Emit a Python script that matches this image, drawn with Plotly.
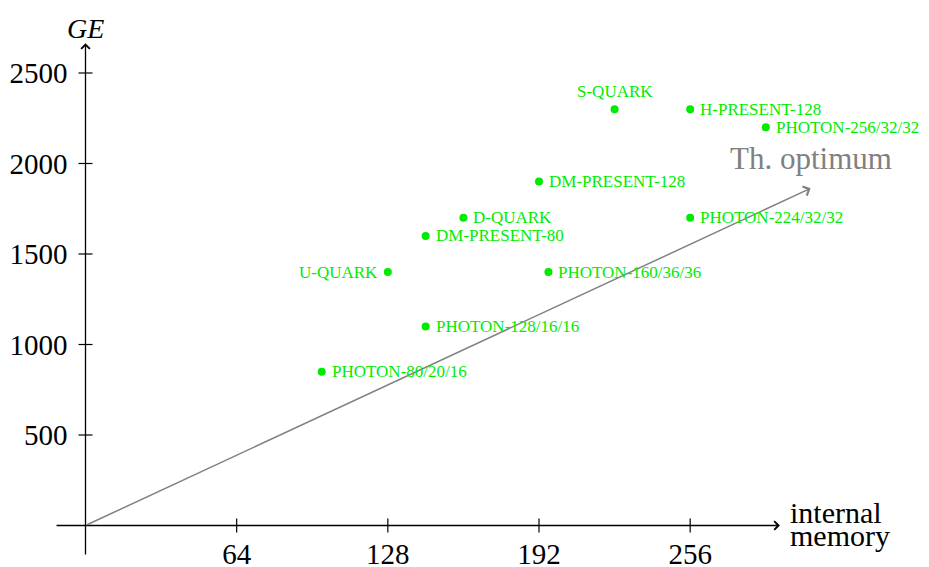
import plotly.graph_objects as go

# ---- data ----
names = ["PHOTON-80/20/16", "PHOTON-128/16/16", "U-QUARK", "DM-PRESENT-80", "D-QUARK",
         "PHOTON-160/36/36", "DM-PRESENT-128", "S-QUARK", "H-PRESENT-128",
         "PHOTON-224/32/32", "PHOTON-256/32/32"]
memory = [100, 144, 128, 144, 160, 196, 192, 224, 256, 256, 288]
ge = [850, 1100, 1400, 1600, 1700, 1400, 1900, 2300, 2300, 1700, 2200]
label_side = ["right", "right", "left", "right", "right", "right", "right", "above",
              "right", "right", "right"]

opt_x = [0, 307]
opt_y = [0, 1863]
opt_label = "Th. optimum"

x_ticks = [64, 128, 192, 256]
y_ticks = [500, 1000, 1500, 2000, 2500]
x_axis_extent = [-12.9, 294]
y_axis_extent = [-168, 2665]

# ---- layout geometry (page has an 8px body margin) ----
W, H = 921, 559
ml, mr, mt, mb = 42, 80, 0, 0
x0px, sx = 77.5, 2.362
y0px, sy = 517.5, 0.181
xrange = [(ml - x0px) / sx, (W - mr - x0px) / sx]
yrange = [(y0px - (H - mb)) / sy, (y0px - mt) / sy]
xpos = ((H - mb) - y0px) / (H - mb - mt)
ypos = (x0px - ml) / (W - ml - mr)

FONT = "Liberation Serif"
GREEN = "rgb(0,235,0)"
GRAY = "rgb(128,128,128)"

fig = go.Figure()
fig.add_trace(go.Scatter(x=memory, y=ge, mode="markers",
                         marker=dict(size=8, color=GREEN), hoverinfo="skip",
                         showlegend=False))

ann = []
# axis arrows
ann.append(dict(x=x_axis_extent[1], y=0, ax=x_axis_extent[0], ay=0, xref="x", yref="y",
                axref="x", ayref="y", text="", showarrow=True, arrowhead=4,
                arrowsize=1.3, arrowwidth=1.3, arrowcolor="black", standoff=0))
ann.append(dict(x=0, y=y_axis_extent[1], ax=0, ay=y_axis_extent[0], xref="x", yref="y",
                axref="x", ayref="y", text="", showarrow=True, arrowhead=4,
                arrowsize=1.3, arrowwidth=1.3, arrowcolor="black", standoff=0))
# optimum line
ann.append(dict(x=opt_x[1], y=opt_y[1], ax=opt_x[0], ay=opt_y[0], xref="x", yref="y",
                axref="x", ayref="y", text="", showarrow=True, arrowhead=4,
                arrowsize=1.3, arrowwidth=1.5, arrowcolor=GRAY, standoff=0))
ann.append(dict(x=opt_x[1], y=opt_y[1], xref="x", yref="y", text=opt_label,
                showarrow=False, yanchor="bottom", xanchor="center", yshift=10,
                font=dict(family=FONT, size=31, color=GRAY)))
# axis labels
ann.append(dict(x=0, y=yrange[1], xref="x", yref="y", text="<i>GE</i>", showarrow=False,
                xanchor="center", yanchor="top", yshift=-3,
                font=dict(family=FONT, size=28, color="black")))
ann.append(dict(x=x_axis_extent[1], y=0, xref="x", yref="y", text="internal",
                showarrow=False, xanchor="left", yanchor="middle", xshift=8, yshift=13,
                font=dict(family=FONT, size=30, color="black")))
ann.append(dict(x=x_axis_extent[1], y=0, xref="x", yref="y", text="memory",
                showarrow=False, xanchor="left", yanchor="middle", xshift=8, yshift=-10,
                font=dict(family=FONT, size=30, color="black")))
# point labels
for n, xv, yv, side in zip(names, memory, ge, label_side):
    d = dict(x=xv, y=yv, xref="x", yref="y", text=n, showarrow=False,
             font=dict(family=FONT, size=17, color=GREEN))
    if side == "right":
        d.update(xanchor="left", yanchor="middle", xshift=8)
    elif side == "left":
        d.update(xanchor="right", yanchor="middle", xshift=-8)
    else:
        d.update(xanchor="center", yanchor="bottom", yshift=6)
    ann.append(d)

shapes = []
for t in x_ticks:
    shapes.append(dict(type="line", xref="x", yref="y", x0=t, x1=t, ysizemode="pixel",
                       yanchor=0, y0=-7, y1=7, line=dict(color="black", width=1.2)))
for t in y_ticks:
    shapes.append(dict(type="line", xref="x", yref="y", y0=t, y1=t, xsizemode="pixel",
                       xanchor=0, x0=-7, x1=7, line=dict(color="black", width=1.2)))

fig.update_layout(
    width=W, height=H, margin=dict(l=ml, r=mr, t=mt, b=mb, autoexpand=False),
    plot_bgcolor="white", paper_bgcolor="white",
    annotations=ann, shapes=shapes, showlegend=False,
    xaxis=dict(range=xrange, tickvals=x_ticks, ticktext=[str(v) for v in x_ticks],
               showgrid=False, zeroline=False, showline=False, ticks="",
               anchor="free", position=xpos, ticklabelstandoff=8, automargin=False,
               tickfont=dict(family=FONT, size=29, color="black")),
    yaxis=dict(range=yrange, tickvals=y_ticks, ticktext=[str(v) for v in y_ticks],
               showgrid=False, zeroline=False, showline=False, ticks="",
               anchor="free", position=ypos, ticklabelstandoff=18, automargin=False,
               tickfont=dict(family=FONT, size=29, color="black")),
)
fig.write_html("out.html")
